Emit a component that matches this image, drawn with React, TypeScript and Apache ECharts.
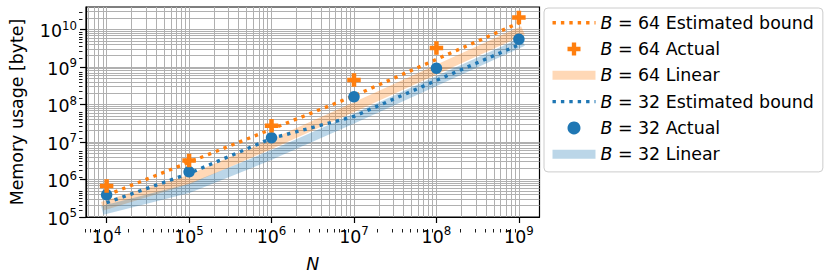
import React, { useEffect, useRef } from 'react';
import * as echarts from 'echarts';

// ---- data ----
const N = [1e4, 1e5, 1e6, 1e7, 1e8, 1e9];
const EST_64 = [3.8e5, 2.9e6, 2.2e7, 1.7e8, 1.6e9, 1.5e10];
const ACT_64 = [6.7e5, 3.2e6, 2.7e7, 4.5e8, 3.2e9, 2.1e10];
const LIN_64 = [2.1e5, 1.0e6, 8.8e6, 8.5e7, 8.5e8, 8.5e9];
const EST_32 = [2.4e5, 1.45e6, 1.25e7, 4.8e7, 4.4e8, 3.9e9];
const ACT_32 = [3.9e5, 1.6e6, 1.3e7, 1.6e8, 9.3e8, 5.5e9];
const LIN_32 = [1.6e5, 5.8e5, 4.5e6, 4.2e7, 4.2e8, 4.2e9];

const NAMES = [
  'B = 64 Estimated bound',
  'B = 64 Actual',
  'B = 64 Linear',
  'B = 32 Estimated bound',
  'B = 32 Actual',
  'B = 32 Linear',
];

// ---- axes ----
const X_MAJOR = [1e4, 1e5, 1e6, 1e7, 1e8, 1e9];
const Y_MAJOR = [1e5, 1e6, 1e7, 1e8, 1e9, 1e10];
const X_DECADES = [1e3, 1e4, 1e5, 1e6, 1e7, 1e8, 1e9];
const Y_DECADES = [1e5, 1e6, 1e7, 1e8, 1e9, 1e10];
const MULTS = [2, 3, 4, 5, 6, 7, 8, 9];
const X_MIN = Math.pow(10, 3.75);
const X_MAX = Math.pow(10, 9.25);
const Y_MIN = 1e5;
const Y_MAX = Math.pow(10, 10.6);
const X_MINOR = X_DECADES.flatMap((d) => MULTS.map((m) => m * d)).filter((v) => v > X_MIN && v < X_MAX);
const Y_MINOR = Y_DECADES.flatMap((d) => MULTS.map((m) => m * d)).filter((v) => v > Y_MIN && v < Y_MAX);

const ORANGE = '#ff7f0e';
const BLUE = '#1f77b4';
const FONT = 'DejaVu Sans';
const PLUS = 'path://M2,0H4V2H6V4H4V6H2V4H0V2H2Z';

const pairs = (ys: number[]) => N.map((x, i) => [x, ys[i]]);

const expFmt = (v: number) => `{b|10}{e|${Math.round(Math.log10(v))}}`;
const expRich = {
  b: { fontSize: 17.4, fontFamily: FONT, color: '#000', lineHeight: 20, verticalAlign: 'bottom' },
  e: { fontSize: 11.8, fontFamily: FONT, color: '#000', lineHeight: 11, verticalAlign: 'top' },
};

const GRID = { left: 82.5, right: 290.5, top: 7, bottom: 48 };

export default function App() {
  const ref = useRef<HTMLDivElement>(null);
  useEffect(() => {
    if (!ref.current) return;
    const chart = echarts.init(ref.current, null, { renderer: 'svg' });
    const dotted = (color: string) => ({ color, width: 3.4, type: [3.4, 5], cap: 'butt' });
    const band = (color: string) => ({ color, width: 9, opacity: 0.3, cap: 'square', join: 'round' });
    const bandIcon = (color: string) => ({ color, width: 9, opacity: 0.3, cap: 'butt', type: 'solid' });
    const hidden = { opacity: 0 };
    chart.setOption({
      animation: false,
      textStyle: { fontFamily: FONT },
      grid: [
        { ...GRID, show: true, borderColor: '#000', borderWidth: 1.2, backgroundColor: 'transparent' },
        { ...GRID, show: false },
      ],
      xAxis: [
        {
          type: 'log', gridIndex: 0, min: X_MIN, max: X_MAX, logBase: 10,
          name: 'N', nameLocation: 'middle', nameGap: 38,
          nameTextStyle: { fontSize: 17.4, fontStyle: 'italic', fontFamily: FONT, color: '#000' },
          axisLine: { show: true, lineStyle: { color: '#000', width: 1.2 } },
          axisTick: { show: true, customValues: X_MAJOR, length: 6, lineStyle: { color: '#000', width: 1.2 } },
          axisLabel: { customValues: X_MAJOR, formatter: expFmt, rich: expRich, margin: 8 },
          splitLine: { show: false },
        },
        {
          type: 'log', gridIndex: 1, min: X_MIN, max: X_MAX, logBase: 10, position: 'bottom',
          axisLine: { show: false },
          axisTick: { show: true, customValues: X_MINOR, length: 3.5, lineStyle: { color: '#000', width: 0.9 } },
          axisLabel: { show: false },
          splitLine: { show: false },
        },
      ],
      yAxis: [
        {
          type: 'log', gridIndex: 0, min: Y_MIN, max: Y_MAX, logBase: 10,
          name: 'Memory usage [byte]', nameLocation: 'middle', nameGap: 61, nameRotate: 90,
          nameTextStyle: { fontSize: 17.4, fontFamily: FONT, color: '#000' },
          axisLine: { show: true, lineStyle: { color: '#000', width: 1.2 } },
          axisTick: { show: true, customValues: Y_MAJOR, length: 6, lineStyle: { color: '#000', width: 1.2 } },
          axisLabel: { customValues: Y_MAJOR, formatter: expFmt, rich: expRich, margin: 9 },
          splitLine: { show: false },
        },
        {
          type: 'log', gridIndex: 1, min: Y_MIN, max: Y_MAX, logBase: 10, position: 'left',
          axisLine: { show: false },
          axisTick: { show: true, customValues: Y_MINOR, length: 3.5, lineStyle: { color: '#000', width: 0.9 } },
          axisLabel: { show: false },
          splitLine: { show: false },
        },
      ],
      legend: {
        orient: 'vertical', left: 544, top: 8,
        padding: [4.7, 9, 7.7, 4],
        itemGap: 6.3, itemWidth: 43, itemHeight: 13, itemTextGap: 11,
        borderColor: '#cccccc', borderWidth: 1, borderRadius: 4, backgroundColor: 'rgba(255,255,255,0.8)',
        textStyle: {
          fontSize: 17.4, fontFamily: FONT, color: '#000', lineHeight: 20,
          rich: { i: { fontSize: 17.4, fontFamily: FONT, fontStyle: 'italic', color: '#000', lineHeight: 20 } },
        },
        formatter: (name: string) => `{i|B}${name.slice(1)}`,
        data: [
          { name: NAMES[0], lineStyle: dotted(ORANGE), itemStyle: hidden },
          { name: NAMES[1] },
          { name: NAMES[2], lineStyle: bandIcon(ORANGE), itemStyle: hidden },
          { name: NAMES[3], lineStyle: dotted(BLUE), itemStyle: hidden },
          { name: NAMES[4] },
          { name: NAMES[5], lineStyle: bandIcon(BLUE), itemStyle: hidden },
        ],
      },
      series: [
        {
          type: 'line', name: '__grid', data: [], xAxisIndex: 0, yAxisIndex: 0, z: 0, silent: true,
          markLine: {
            silent: true, z: 0, symbol: ['none', 'none'], label: { show: false },
            lineStyle: { color: '#b0b0b0', width: 1, type: 'solid' },
            emphasis: { disabled: true },
            animation: false,
            data: [
              ...X_MAJOR.map((v) => ({ xAxis: v })),
              ...X_MINOR.map((v) => ({ xAxis: v })),
              ...Y_MAJOR.map((v) => ({ yAxis: v })),
              ...Y_MINOR.map((v) => ({ yAxis: v })),
            ],
          },
        },
        {
          type: 'line', name: NAMES[2], data: pairs(LIN_64), symbol: 'none', z: 2,
          lineStyle: band(ORANGE), itemStyle: { color: ORANGE },
        },
        {
          type: 'line', name: NAMES[5], data: pairs(LIN_32), symbol: 'none', z: 2,
          lineStyle: band(BLUE), itemStyle: { color: BLUE },
        },
        {
          type: 'line', name: NAMES[0], data: pairs(EST_64), symbol: 'none', z: 3,
          lineStyle: dotted(ORANGE), itemStyle: { color: ORANGE },
        },
        {
          type: 'line', name: NAMES[3], data: pairs(EST_32), symbol: 'none', z: 3,
          lineStyle: dotted(BLUE), itemStyle: { color: BLUE },
        },
        {
          type: 'scatter', name: NAMES[4], data: pairs(ACT_32), symbol: 'circle', symbolSize: 11.5, z: 4,
          itemStyle: { color: BLUE, opacity: 1 },
        },
        {
          type: 'scatter', name: NAMES[1], data: pairs(ACT_64), symbol: PLUS, symbolSize: 13.5, z: 5,
          itemStyle: { color: ORANGE, opacity: 1 },
        },
      ],
    });
    return () => chart.dispose();
  }, []);
  return <div ref={ref} style={{ width: 830, height: 277, position: 'absolute', left: 0, top: 0 }} />;
}
